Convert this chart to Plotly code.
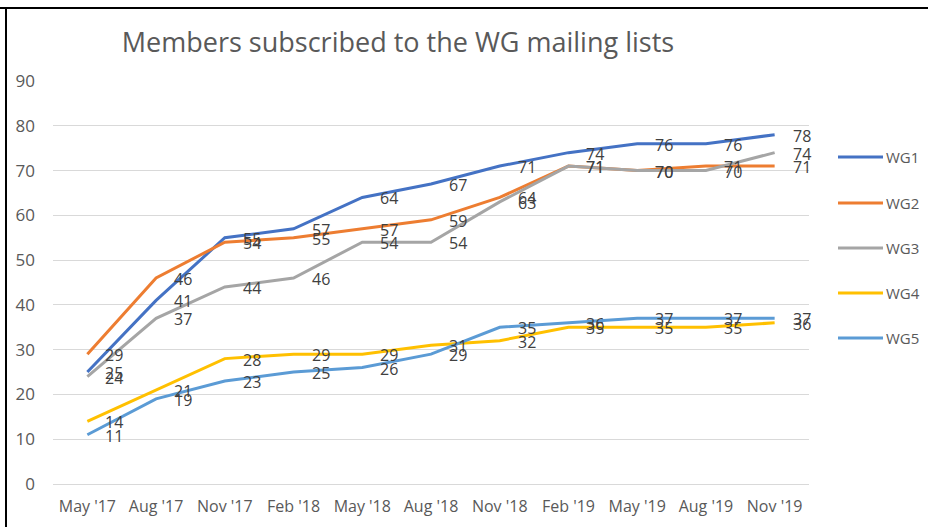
import plotly.graph_objects as go

categories = ["May '17", "Aug '17", "Nov '17", "Feb '18", "May '18", "Aug '18",
              "Nov '18", "Feb '19", "May '19", "Aug '19", "Nov '19"]
wg1 = [25, 41, 55, 57, 64, 67, 71, 74, 76, 76, 78]
wg2 = [29, 46, 54, 55, 57, 59, 64, 71, 70, 71, 71]
wg3 = [24, 37, 44, 46, 54, 54, 63, 71, 70, 70, 74]
wg4 = [14, 21, 28, 29, 29, 31, 32, 35, 35, 35, 36]
wg5 = [11, 19, 23, 25, 26, 29, 35, 36, 37, 37, 37]
series_names = ["WG1", "WG2", "WG3", "WG4", "WG5"]
series_values = [wg1, wg2, wg3, wg4, wg5]
colors = ["#4472C4", "#ED7D31", "#A5A5A5", "#FFC000", "#5B9BD5"]
y_ticks = [0, 10, 20, 30, 40, 50, 60, 70, 80, 90]

W, H = 928, 527
L, R, T, B = 53, 119, 81, 43
pw, ph = W - L - R, H - T - B

def px_x(p):
    return (p - L) / pw

def px_y(p):
    return (H - B - p) / ph

fig = go.Figure()
annotations = []
for name, vals, col in zip(series_names, series_values, colors):
    fig.add_trace(go.Scatter(x=categories, y=vals, mode="lines", name=name,
                             line=dict(color=col, width=3), showlegend=False))
    for c, v in zip(categories, vals):
        annotations.append(dict(x=c, y=v, xref="x", yref="y", text=str(v),
                                showarrow=False, xanchor="left", yanchor="middle",
                                xshift=16, yshift=-1,
                                font=dict(family="Open Sans", size=16, color="#404040")))

# custom legend
legend_y = [157, 203, 248, 293, 338]
shapes = []
for name, col, ly in zip(series_names, colors, legend_y):
    shapes.append(dict(type="line", xref="paper", yref="paper",
                       x0=px_x(838), x1=px_x(883), y0=px_y(ly), y1=px_y(ly),
                       line=dict(color=col, width=3)))
    annotations.append(dict(x=px_x(884), y=px_y(ly), xref="paper", yref="paper",
                            text=name, showarrow=False, xanchor="left", yanchor="middle",
                            font=dict(family="Open Sans", size=15, color="#595959")))

# frame border (top and left)
shapes.append(dict(type="line", xref="paper", yref="paper",
                   x0=px_x(0), x1=px_x(W + 5), y0=px_y(8), y1=px_y(8),
                   line=dict(color="#000000", width=2)))
shapes.append(dict(type="line", xref="paper", yref="paper",
                   x0=px_x(6), x1=px_x(6), y0=px_y(8), y1=px_y(H + 5),
                   line=dict(color="#000000", width=2)))

fig.update_layout(
    width=W, height=H,
    margin=dict(l=L, r=R, t=T, b=B),
    paper_bgcolor="white", plot_bgcolor="white",
    title=dict(text="Members subscribed to the WG mailing lists",
               x=398 / W, xref="container", xanchor="center",
               y=1 - 43 / H, yref="container", yanchor="middle",
               font=dict(family="Open Sans", size=27, color="#595959")),
    xaxis=dict(type="category", range=[-0.5, 10.5], showgrid=False,
               showline=False, zeroline=False, ticks="", automargin=False,
               tickfont=dict(family="Open Sans", size=16, color="#595959"),
               ticklabelstandoff=11),
    yaxis=dict(range=[0, 90], tickvals=y_ticks, showgrid=True,
               gridcolor="#D9D9D9", gridwidth=1, zeroline=True, automargin=False,
               zerolinecolor="#D9D9D9", zerolinewidth=1, showline=False, ticks="",
               tickfont=dict(family="Open Sans", size=17, color="#595959"),
               ticklabelstandoff=17),
    shapes=shapes,
    annotations=annotations,
)

fig.write_html("out.html", config={"displayModeBar": False},
               post_script="document.body.style.margin='0';")
